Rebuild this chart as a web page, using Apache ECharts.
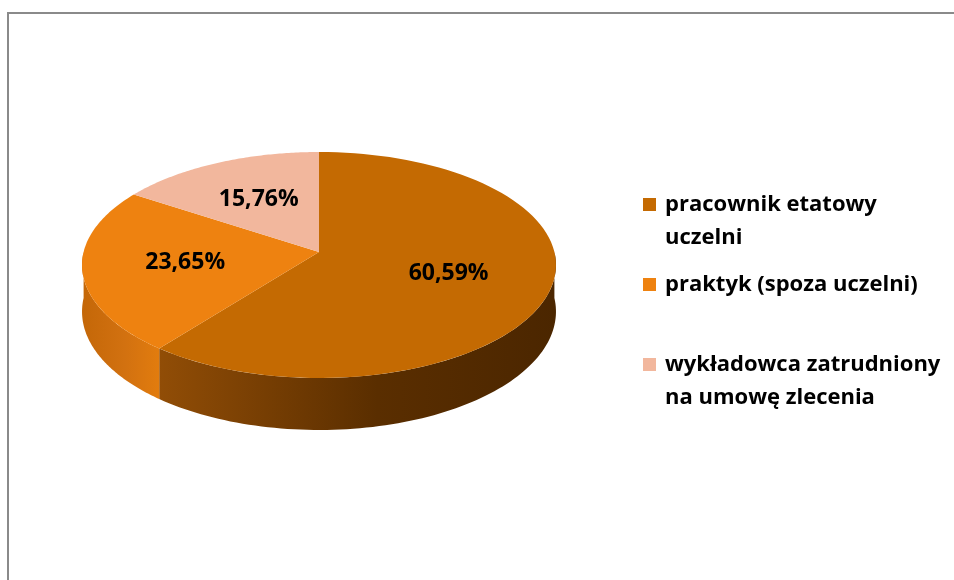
<!DOCTYPE html>
<html>
<head>
<meta charset="utf-8">
<script src="https://cdn.jsdelivr.net/npm/echarts@6/dist/echarts.min.js"></script>
<style>
html, body { margin: 0; padding: 0; background: #fff; }
#chart { width: 954px; height: 580px; }
</style>
</head>
<body>
<div id="chart"></div>
<script>
// chart data
let categories = ['pracownik etatowy\nuczelni', 'praktyk (spoza uczelni)', 'wykładowca zatrudniony\nna umowę zlecenia'];
let shares = [60.59, 23.65, 15.76];
let topColors = ['#C46A02', '#EE8210', '#F2B79D'];
let wallColors = [['#914D06', '#5A2E00', '#4B2600'], ['#C46708', '#D27110', '#E27C0E'], ['#E8A88C', '#E8A88C', '#E8A88C']];

// pie geometry: tilted disc seen with a little perspective
let pieCenter = [319, 252];
let pieRadius = [235.4, 111.5];
let pieDepth = 46;
let persp = 0.115;

let total = shares.reduce(function (a, b) { return a + b; }, 0);

function project(t, r, down) {
    let u = Math.sin(t) * r;
    let v = -Math.cos(t) * r;
    let g = 1 / (1 - persp * v);
    return [pieCenter[0] + pieRadius[0] * u * g, pieCenter[1] + (pieRadius[1] * v + down) * g];
}

function renderSlice(params, api) {
    let idx = params.seriesIndex;
    let before = 0;
    for (let i = 0; i < idx; i++) before += shares[i];
    let start = before / total * Math.PI * 2;
    let end = start + api.value(0) / total * Math.PI * 2;
    let steps = 90;
    let children = [];

    // front wall, only the part facing the viewer
    let a = Math.max(start, Math.PI / 2);
    let b = Math.min(end, Math.PI * 1.5);
    if (b > a) {
        let wall = [];
        for (let k = 0; k <= steps; k++) wall.push(project(a + (b - a) * k / steps, 1, 0));
        for (let k = steps; k >= 0; k--) wall.push(project(a + (b - a) * k / steps, 1, pieDepth));
        let wc = wallColors[idx];
        children.push({
            type: 'polygon',
            z2: 0,
            shape: { points: wall },
            style: {
                fill: {
                    type: 'linear', x: 0, y: 0, x2: 1, y2: 0,
                    colorStops: [{ offset: 0, color: wc[0] }, { offset: 0.55, color: wc[1] }, { offset: 1, color: wc[2] }]
                }
            }
        });
    }

    // top face
    let top = [project(0, 0, 0)];
    for (let k = 0; k <= steps; k++) top.push(project(start + (end - start) * k / steps, 1, 0));
    children.push({
        type: 'polygon',
        z2: 10,
        shape: { points: top },
        style: { fill: topColors[idx] }
    });

    // value label
    let pos = project((start + end) / 2, 0.57, 0);
    children.push({
        type: 'text',
        z2: 20,
        style: {
            text: api.value(0).toFixed(2).replace('.', ',') + '%',
            x: pos[0],
            y: pos[1],
            align: 'center',
            verticalAlign: 'middle',
            font: 'bold 23px "Open Sans"',
            fill: '#000'
        }
    });
    return { type: 'group', children: children };
}

// square icon sitting on the first text line of a two-line entry
let tallIcon = 'path://M0,0H10V10H0Z M0,35.4L10,35.4';

function makeLegend(i, top, multiline) {
    return {
        data: [categories[i]],
        left: 643,
        top: top,
        padding: 0,
        icon: multiline ? tallIcon : 'rect',
        itemWidth: 13,
        itemHeight: multiline ? 46 : 13,
        selectedMode: false,
        textStyle: {
            fontFamily: 'Open Sans',
            fontWeight: 'bold',
            fontSize: 22,
            lineHeight: 33,
            color: '#000',
            padding: [0, 0, 0, 4]
        }
    };
}

let chart = echarts.init(document.getElementById('chart'));
chart.setOption({
    animation: false,
    backgroundColor: '#fff',
    graphic: [{
        type: 'rect',
        shape: { x: 8, y: 13, width: 1000, height: 700 },
        style: { fill: 'none', stroke: '#8A8A8A', lineWidth: 2 },
        silent: true
    }],
    legend: [
        makeLegend(0, 188, true),
        makeLegend(1, 268, false),
        makeLegend(2, 348, true)
    ],
    series: categories.map(function (name, i) {
        return {
            name: name,
            type: 'custom',
            coordinateSystem: 'none',
            color: topColors[i],
            renderItem: renderSlice,
            data: [[shares[i]]]
        };
    })
});
</script>
</body>
</html>
